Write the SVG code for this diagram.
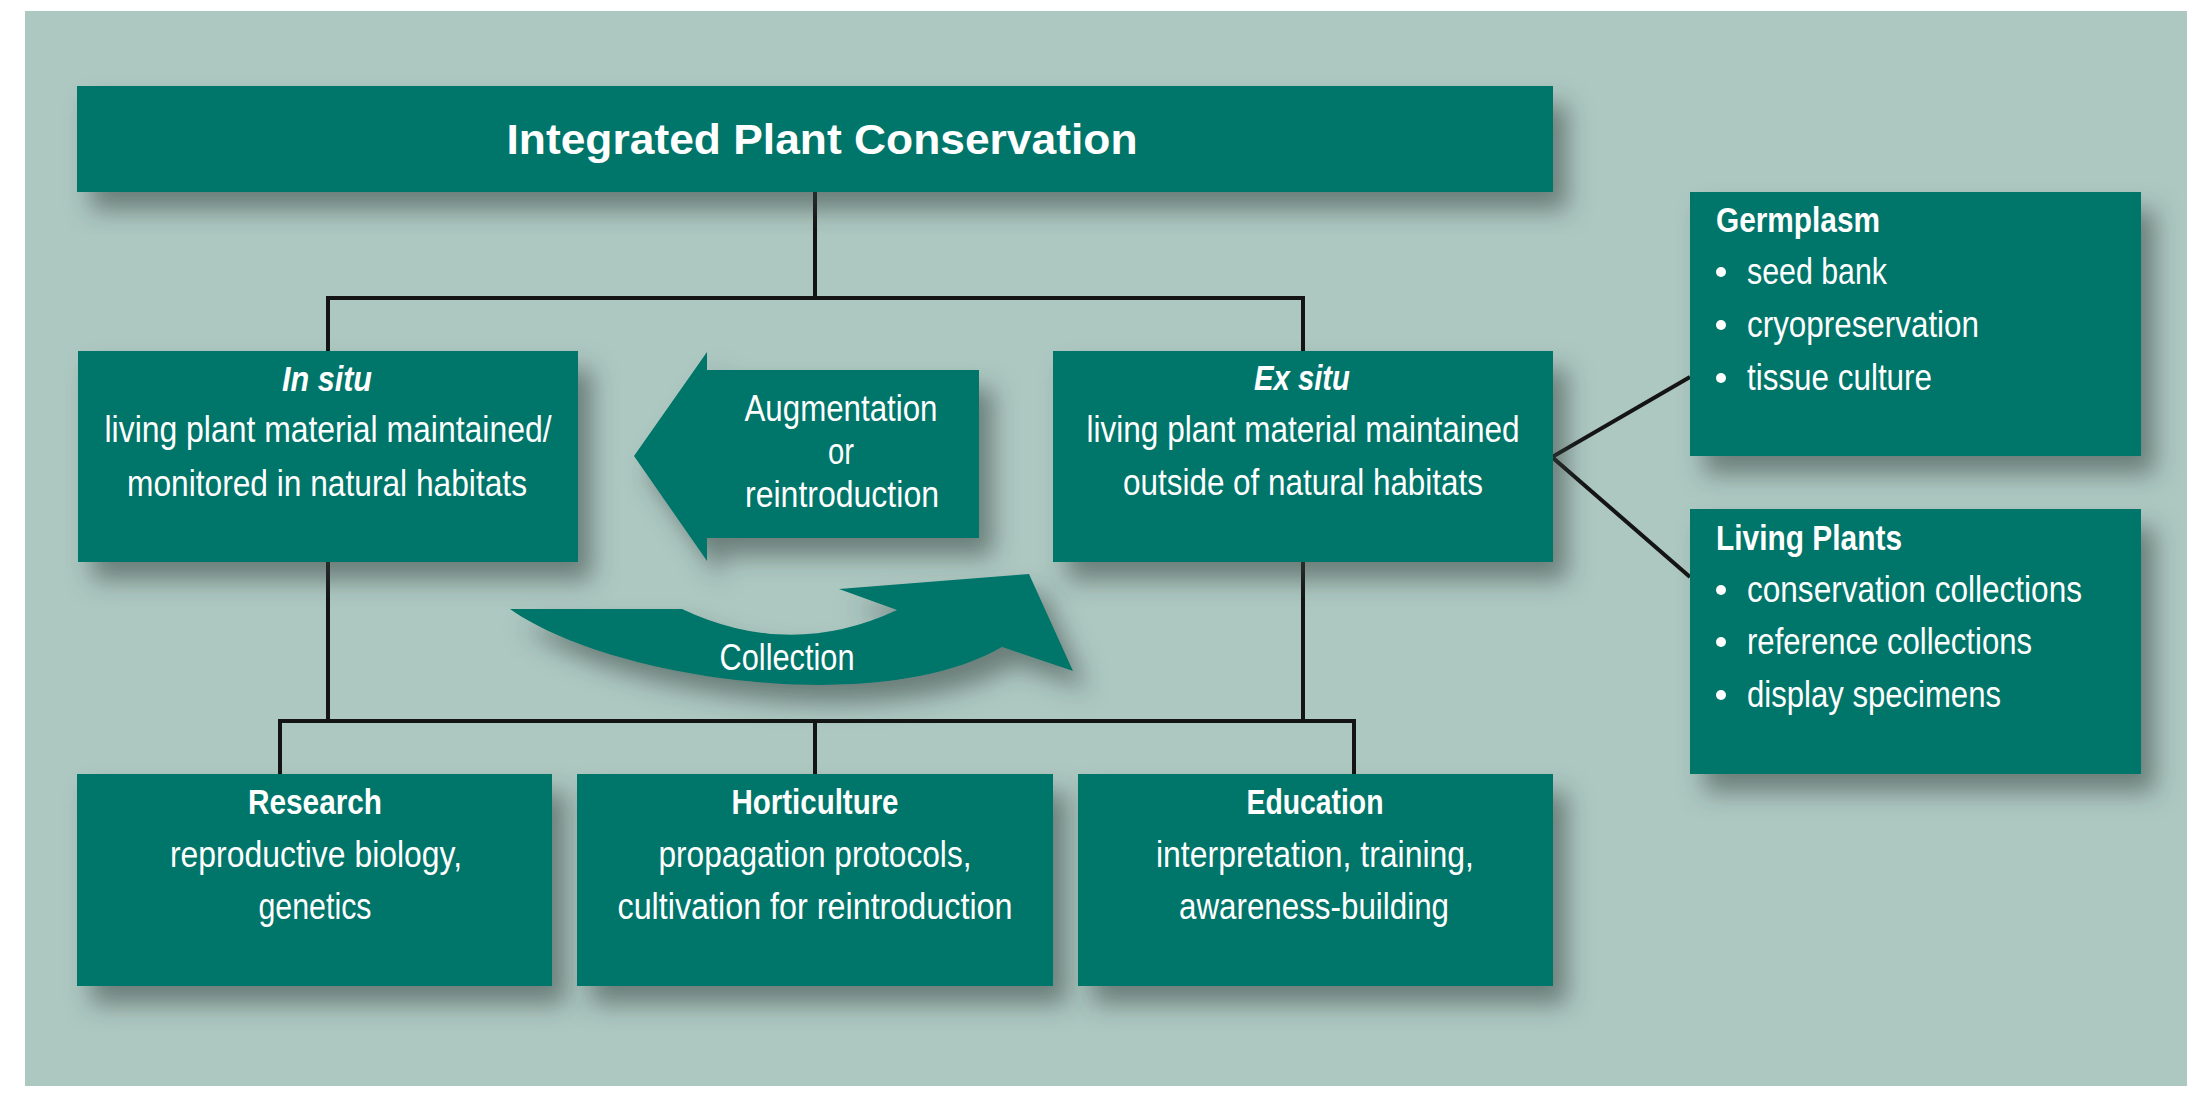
<svg xmlns="http://www.w3.org/2000/svg" width="2208" height="1112" viewBox="0 0 2208 1112">
<defs>
<filter id="sh" x="-10%" y="-10%" width="135%" height="150%">
<feDropShadow dx="14" dy="18" stdDeviation="12" flood-color="#34433f" flood-opacity="0.55"/>
</filter>
<style>
.box{fill:#00756b;filter:url(#sh)}
.t{font-family:"Liberation Sans",Arial,sans-serif;fill:#ffffff;font-size:36px;text-anchor:middle}
.b{font-weight:bold;font-size:35px}
.i{font-style:italic}
.l{text-anchor:start}
.ln{stroke:#141414;stroke-width:4;fill:none;stroke-linecap:square}
.dot{fill:#ffffff}
</style>
</defs>
<rect x="0" y="0" width="2208" height="1112" fill="#ffffff"/>
<rect x="25" y="11" width="2162" height="1075" fill="#adc7c1"/>

<g id="connectors">
<path class="ln" d="M815,192 V298 M328,298 H1303 M328,298 V351 M1303,298 V351"/>
<path class="ln" d="M328,562 V721 M1303,562 V721 M280,721 H1354 M280,721 V774 M815,721 V774 M1354,721 V774"/>
<path class="ln" style="stroke-linecap:butt" d="M1690,377 L1552,457 L1690,577"/>
</g>

<g id="title">
<rect class="box" x="77" y="86" width="1476" height="106"/>
<text class="t b" x="822" y="154" style="font-size:43px" textLength="631" lengthAdjust="spacingAndGlyphs">Integrated Plant Conservation</text>
</g>

<g id="in-situ">
<rect class="box" x="78" y="351" width="500" height="211"/>
<text class="t b i" x="327" y="391" textLength="90" lengthAdjust="spacingAndGlyphs">In situ</text>
<text class="t" x="328" y="442" textLength="447" lengthAdjust="spacingAndGlyphs">living plant material maintained/</text>
<text class="t" x="327" y="496" textLength="400" lengthAdjust="spacingAndGlyphs">monitored in natural habitats</text>
</g>

<g id="ex-situ">
<rect class="box" x="1053" y="351" width="500" height="211"/>
<text class="t b i" x="1302" y="390" textLength="96" lengthAdjust="spacingAndGlyphs">Ex situ</text>
<text class="t" x="1303" y="442" textLength="433" lengthAdjust="spacingAndGlyphs">living plant material maintained</text>
<text class="t" x="1303" y="495" textLength="360" lengthAdjust="spacingAndGlyphs">outside of natural habitats</text>
</g>

<g id="augmentation">
<polygon class="box" points="634,456 707,352 707,370 979,370 979,538 707,538 707,561"/>
<text class="t" x="841" y="421" textLength="193" lengthAdjust="spacingAndGlyphs">Augmentation</text>
<text class="t" x="841" y="464" textLength="26" lengthAdjust="spacingAndGlyphs">or</text>
<text class="t" x="842" y="507" textLength="194" lengthAdjust="spacingAndGlyphs">reintroduction</text>
</g>

<g id="collection">
<path class="box" d="M510,609 L682,609 Q790,660 897,610 L839,589 L1029,574 L1073,671 L1002,647 C880,718 610,680 510,609 Z"/>
<text class="t" x="787" y="670" textLength="135" lengthAdjust="spacingAndGlyphs">Collection</text>
</g>

<g id="germplasm">
<rect class="box" x="1690" y="192" width="451" height="264"/>
<text class="t b l" x="1716" y="232" textLength="164" lengthAdjust="spacingAndGlyphs">Germplasm</text>
<circle class="dot" cx="1721" cy="272" r="5"/>
<text class="t l" x="1747" y="284" textLength="140" lengthAdjust="spacingAndGlyphs">seed bank</text>
<circle class="dot" cx="1721" cy="325" r="5"/>
<text class="t l" x="1747" y="337" textLength="232" lengthAdjust="spacingAndGlyphs">cryopreservation</text>
<circle class="dot" cx="1721" cy="378" r="5"/>
<text class="t l" x="1747" y="390" textLength="185" lengthAdjust="spacingAndGlyphs">tissue culture</text>
</g>

<g id="living-plants">
<rect class="box" x="1690" y="509" width="451" height="265"/>
<text class="t b l" x="1716" y="550" textLength="186" lengthAdjust="spacingAndGlyphs">Living Plants</text>
<circle class="dot" cx="1721" cy="590" r="5"/>
<text class="t l" x="1747" y="602" textLength="335" lengthAdjust="spacingAndGlyphs">conservation collections</text>
<circle class="dot" cx="1721" cy="642" r="5"/>
<text class="t l" x="1747" y="654" textLength="285" lengthAdjust="spacingAndGlyphs">reference collections</text>
<circle class="dot" cx="1721" cy="695" r="5"/>
<text class="t l" x="1747" y="707" textLength="254" lengthAdjust="spacingAndGlyphs">display specimens</text>
</g>

<g id="research">
<rect class="box" x="77" y="774" width="475" height="212"/>
<text class="t b" x="315" y="814" textLength="134" lengthAdjust="spacingAndGlyphs">Research</text>
<text class="t" x="316" y="867" textLength="292" lengthAdjust="spacingAndGlyphs">reproductive biology,</text>
<text class="t" x="315" y="919" textLength="113" lengthAdjust="spacingAndGlyphs">genetics</text>
</g>

<g id="horticulture">
<rect class="box" x="577" y="774" width="476" height="212"/>
<text class="t b" x="815" y="814" textLength="167" lengthAdjust="spacingAndGlyphs">Horticulture</text>
<text class="t" x="815" y="867" textLength="313" lengthAdjust="spacingAndGlyphs">propagation protocols,</text>
<text class="t" x="815" y="919" textLength="395" lengthAdjust="spacingAndGlyphs">cultivation for reintroduction</text>
</g>

<g id="education">
<rect class="box" x="1078" y="774" width="475" height="212"/>
<text class="t b" x="1315" y="814" textLength="137" lengthAdjust="spacingAndGlyphs">Education</text>
<text class="t" x="1315" y="867" textLength="318" lengthAdjust="spacingAndGlyphs">interpretation, training,</text>
<text class="t" x="1314" y="919" textLength="270" lengthAdjust="spacingAndGlyphs">awareness-building</text>
</g>
</svg>
